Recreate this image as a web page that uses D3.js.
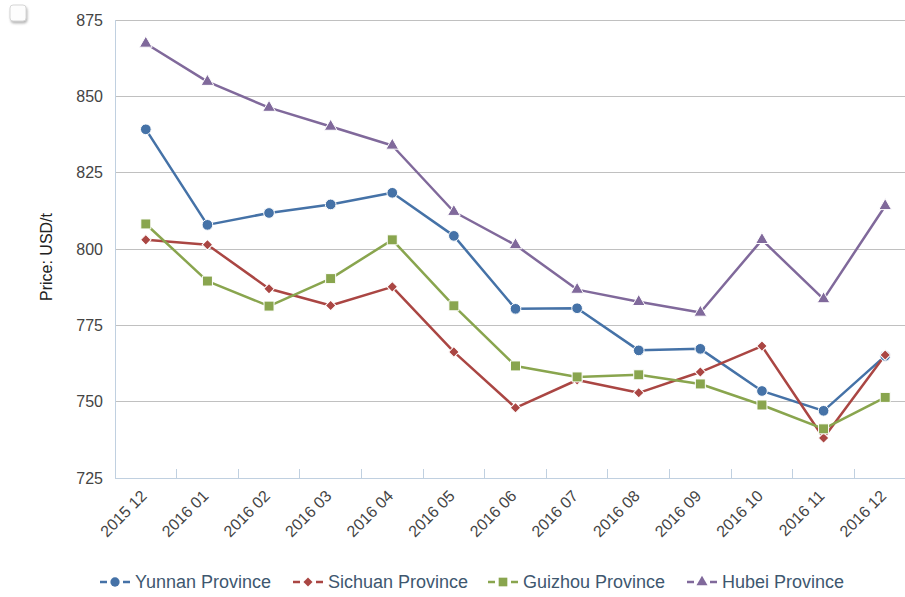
<!DOCTYPE html>
<html>
<head>
<meta charset="utf-8">
<script src="https://cdn.jsdelivr.net/npm/d3@7"></script>
<style>
  body { margin: 0; background: #fff; }
  svg { display: block; font-family: "Liberation Sans", Arial, sans-serif; }
</style>
</head>
<body>
<div id="chart"></div>
<script>
// data
var months = ["2015 12", "2016 01", "2016 02", "2016 03", "2016 04", "2016 05", "2016 06",
              "2016 07", "2016 08", "2016 09", "2016 10", "2016 11", "2016 12"]
var yunnan  = [839.2, 807.9, 811.8, 814.6, 818.4, 804.3, 780.4, 780.6, 766.8, 767.3, 753.5, 747.0, 765.0]
var sichuan = [803.0, 801.4, 787.0, 781.5, 787.6, 766.3, 748.0, 757.1, 752.9, 759.7, 768.2, 738.1, 765.3]
var guizhou = [808.2, 789.5, 781.3, 790.3, 803.0, 781.4, 761.7, 758.1, 758.8, 755.8, 748.9, 741.1, 751.4]
var hubei   = [867.3, 854.8, 846.3, 840.1, 833.9, 812.2, 801.3, 786.7, 782.7, 779.2, 803.0, 783.6, 814.1]
var yTicks = [725, 750, 775, 800, 825, 850, 875]

var seriesNames = ["Yunnan Province", "Sichuan Province", "Guizhou Province", "Hubei Province"]
var seriesVals = [yunnan, sichuan, guizhou, hubei]
var colors = ["#4572A7", "#AA4643", "#89A54E", "#80699B"]
// diamond = square turned 45deg (like highcharts), not d3's tall diamond
var symbols = [d3.symbolCircle, d3.symbolSquare, d3.symbolSquare, d3.symbolTriangle]
var symRot = [0, 45, 0, 0]
var symSize = [90, 55, 100, 70]

var W = 905, H = 597
var plotLeft = 115, plotTop = 20, plotBottom = 478
var plotW = 801 // runs past the right edge like the original

var svg = d3.select("#chart").append("svg")
    .attr("width", W).attr("height", H)

// small button top left
var defs = svg.append("defs")
var f = defs.append("filter").attr("id", "shadow").attr("x", "-50%").attr("y", "-50%").attr("width", "200%").attr("height", "200%")
f.append("feDropShadow").attr("dx", 1).attr("dy", 2).attr("stdDeviation", 1.2).attr("flood-color", "#999").attr("flood-opacity", 0.7)
svg.append("rect")
    .attr("x", 10).attr("y", 5).attr("width", 16).attr("height", 16).attr("rx", 3)
    .attr("fill", "#fdfdfd").attr("stroke", "#d6d6d6").attr("filter", "url(#shadow)")

var x = d3.scaleBand().domain(months).range([plotLeft, plotLeft + plotW])
var y = d3.scaleLinear().domain([725, 875]).range([plotBottom, plotTop])

// gridlines
svg.append("g").selectAll("line")
    .data(yTicks.filter(function(d){ return d != 725 }))
    .enter().append("line")
    .attr("x1", plotLeft).attr("x2", W)
    .attr("y1", function(d){ return y(d) }).attr("y2", function(d){ return y(d) })
    .attr("stroke", "#C0C0C0").attr("stroke-width", 1)
    .attr("shape-rendering", "crispEdges")

// y axis labels
var yAxis = svg.append("g")
    .attr("transform", "translate(" + plotLeft + ",0)")
    .call(d3.axisLeft(y).tickValues(yTicks).tickSize(0).tickPadding(12))
yAxis.select(".domain").remove()
yAxis.selectAll("text").attr("font-size", 16).attr("fill", "#444").attr("font-family", "Liberation Sans, Arial, sans-serif")

// y axis line
svg.append("line")
    .attr("x1", plotLeft).attr("x2", plotLeft).attr("y1", plotTop).attr("y2", plotBottom)
    .attr("stroke", "#C0D0E0").attr("shape-rendering", "crispEdges")

// x axis line + ticks at category boundaries
svg.append("line")
    .attr("x1", plotLeft).attr("x2", W).attr("y1", plotBottom).attr("y2", plotBottom)
    .attr("stroke", "#C0D0E0").attr("shape-rendering", "crispEdges")
svg.append("g").selectAll("line")
    .data(months.slice(1))
    .enter().append("line")
    .attr("x1", function(d){ return x(d) }).attr("x2", function(d){ return x(d) })
    .attr("y1", plotBottom).attr("y2", plotBottom - 9)
    .attr("stroke", "#C0D0E0").attr("shape-rendering", "crispEdges")

// x labels
svg.append("g").selectAll("text")
    .data(months)
    .enter().append("text")
    .attr("transform", function(d){
        return "translate(" + (x(d) + x.bandwidth()/2 + 2) + "," + (plotBottom + 19) + ") rotate(-45)" })
    .attr("text-anchor", "end")
    .attr("font-size", 16)
    .attr("fill", "#444")
    .text(function(d){ return d })

// y title
svg.append("text")
    .attr("transform", "translate(52,257) rotate(-90)")
    .attr("text-anchor", "middle")
    .attr("font-size", 16)
    .attr("fill", "#222")
    .text("Price: USD/t")

// lines
var line = d3.line()
    .x(function(d, i){ return x(months[i]) + x.bandwidth()/2 })
    .y(function(d){ return y(d) })

seriesVals.forEach(function(vals, s){
    svg.append("path")
        .datum(vals)
        .attr("fill", "none")
        .attr("stroke", colors[s])
        .attr("stroke-width", 2.5)
        .attr("stroke-linejoin", "round")
        .attr("d", line)
})
seriesVals.forEach(function(vals, s){
    svg.append("g").selectAll("path")
        .data(vals)
        .enter().append("path")
        .attr("transform", function(d, i){
            return "translate(" + (x(months[i]) + x.bandwidth()/2) + "," + y(d) + ") rotate(" + symRot[s] + ")" })
        .attr("d", d3.symbol().type(symbols[s]).size(symSize[s]))
        .attr("fill", colors[s])
        .attr("stroke", "#fff").attr("stroke-width", 1)
})

// legend
var legX = [100, 293, 488, 687]
var legY = 582
var leg = svg.append("g").selectAll("g")
    .data(seriesNames)
    .enter().append("g")
    .attr("transform", function(d, i){ return "translate(" + legX[i] + "," + legY + ")" })
leg.append("line")
    .attr("x1", 0).attr("x2", 30).attr("y1", 0).attr("y2", 0)
    .attr("stroke", function(d, i){ return colors[i] }).attr("stroke-width", 2.5)
    .attr("stroke-dasharray", "7,16,7")
leg.append("path")
    .attr("transform", function(d, i){ return "translate(15,0) rotate(" + symRot[i] + ")" })
    .attr("d", function(d, i){ return d3.symbol().type(symbols[i]).size(symSize[i] * 0.75)() })
    .attr("fill", function(d, i){ return colors[i] })
leg.append("text")
    .attr("x", 35).attr("y", 0).attr("dy", "0.35em")
    .attr("font-size", 18)
    .attr("fill", "#3E576F")
    .text(function(d){ return d })
</script>
</body>
</html>
